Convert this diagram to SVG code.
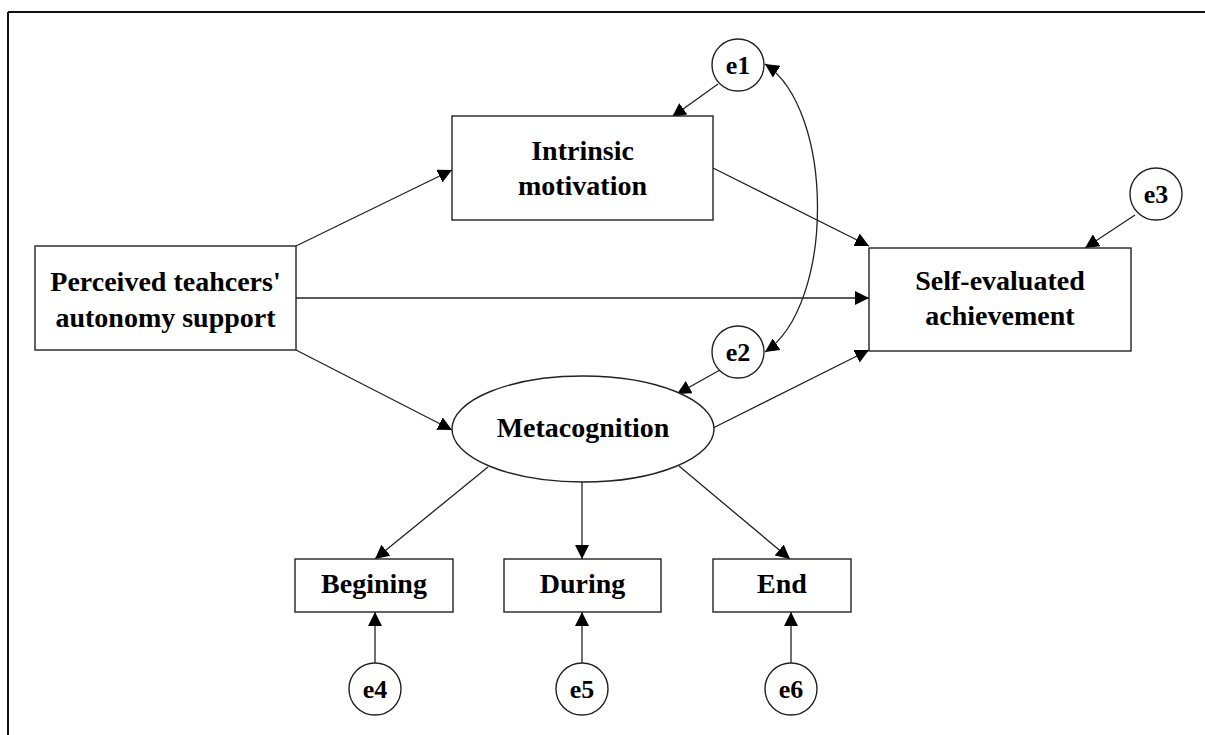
<svg xmlns="http://www.w3.org/2000/svg" width="1205" height="735" viewBox="0 0 1205 735">
<style>
.box{fill:#fff;stroke:#222;stroke-width:1.4}
.lbl{font-family:"Liberation Serif","Times New Roman",serif;font-weight:bold;font-size:28px;fill:#000;text-anchor:middle}
.el{font-family:"Liberation Serif","Times New Roman",serif;font-weight:bold;font-size:26px;fill:#000;text-anchor:middle}
.c{fill:none;stroke:#222;stroke-width:1.3}
</style>
<defs>
<marker id="ah" viewBox="0 0 12 12" refX="12" refY="6" markerWidth="14" markerHeight="14" markerUnits="userSpaceOnUse" orient="auto-start-reverse">
<path d="M0,0 L12,6 L0,12 Z" fill="#000"/>
</marker>
</defs>
<rect width="1205" height="735" fill="#fff"/>
<g id="frame">
<line x1="8" y1="12" x2="1205" y2="12" stroke="#111" stroke-width="2"/>
<line x1="8" y1="12" x2="8" y2="735" stroke="#111" stroke-width="2"/>
</g>
<g id="connectors">
<line class="c" x1="296" y1="246" x2="452" y2="170" marker-end="url(#ah)"/>
<line class="c" x1="296" y1="298" x2="869" y2="298" marker-end="url(#ah)"/>
<line class="c" x1="296" y1="350" x2="452" y2="430" marker-end="url(#ah)"/>
<line class="c" x1="713" y1="168" x2="869" y2="246" marker-end="url(#ah)"/>
<line class="c" x1="713" y1="428" x2="869" y2="350" marker-end="url(#ah)"/>
<line class="c" x1="718" y1="84" x2="672" y2="117" marker-end="url(#ah)"/>
<line class="c" x1="1135" y1="215" x2="1085" y2="248" marker-end="url(#ah)"/>
<line class="c" x1="720" y1="370" x2="677" y2="394" marker-end="url(#ah)"/>
<path class="c" d="M765,64 C835,110 835,305 765,352" marker-start="url(#ah)" marker-end="url(#ah)"/>
<line class="c" x1="488" y1="467" x2="375" y2="559" marker-end="url(#ah)"/>
<line class="c" x1="582" y1="482" x2="582" y2="559" marker-end="url(#ah)"/>
<line class="c" x1="679" y1="466" x2="790" y2="559" marker-end="url(#ah)"/>
<line class="c" x1="375" y1="663" x2="375" y2="612" marker-end="url(#ah)"/>
<line class="c" x1="582" y1="663" x2="582" y2="612" marker-end="url(#ah)"/>
<line class="c" x1="791" y1="663" x2="791" y2="612" marker-end="url(#ah)"/>
</g>
<g id="perceived">
<rect class="box" x="35" y="246" width="261" height="104"/>
<text class="lbl" x="165.5" y="291">Perceived teahcers'</text>
<text class="lbl" x="165.5" y="327">autonomy support</text>
</g>
<g id="intrinsic">
<rect class="box" x="452" y="116" width="261" height="104"/>
<text class="lbl" x="582.5" y="160">Intrinsic</text>
<text class="lbl" x="582.5" y="195">motivation</text>
</g>
<g id="selfeval">
<rect class="box" x="869" y="248" width="262" height="103"/>
<text class="lbl" x="1000" y="290">Self-evaluated</text>
<text class="lbl" x="1000" y="325">achievement</text>
</g>
<g id="metacognition">
<ellipse class="box" cx="583" cy="429" rx="131" ry="53"/>
<text class="lbl" x="583" y="437">Metacognition</text>
</g>
<g id="begining">
<rect class="box" x="295" y="559" width="158" height="53"/>
<text class="lbl" x="374" y="593">Begining</text>
</g>
<g id="during">
<rect class="box" x="504" y="559" width="157" height="53"/>
<text class="lbl" x="582.5" y="593">During</text>
</g>
<g id="end">
<rect class="box" x="713" y="559" width="138" height="53"/>
<text class="lbl" x="782" y="593">End</text>
</g>
<g id="e1"><circle class="box" cx="738" cy="65" r="26"/><text class="el" x="738" y="74">e1</text></g>
<g id="e2"><circle class="box" cx="738" cy="352" r="26"/><text class="el" x="738" y="361">e2</text></g>
<g id="e3"><circle class="box" cx="1156" cy="194" r="26"/><text class="el" x="1156" y="203">e3</text></g>
<g id="e4"><circle class="box" cx="375" cy="689" r="26"/><text class="el" x="375" y="698">e4</text></g>
<g id="e5"><circle class="box" cx="582" cy="689" r="26"/><text class="el" x="582" y="698">e5</text></g>
<g id="e6"><circle class="box" cx="791" cy="689" r="26"/><text class="el" x="791" y="698">e6</text></g>
</svg>
